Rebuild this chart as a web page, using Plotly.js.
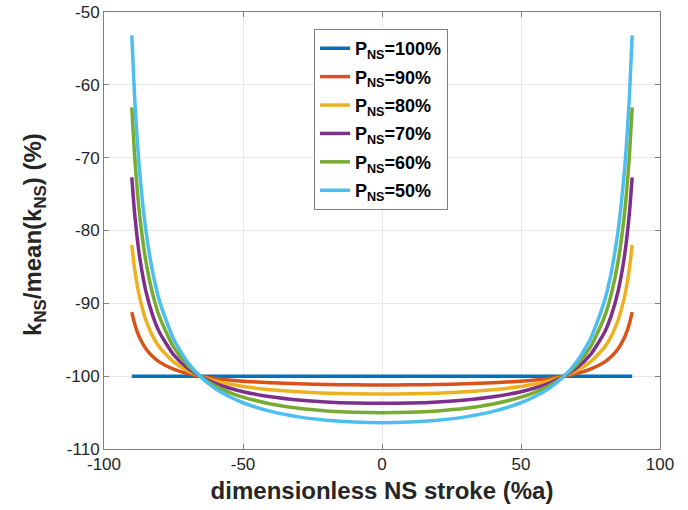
<!DOCTYPE html>
<html>
<head>
<meta charset="utf-8">
<script src="https://cdn.plot.ly/plotly-3.0.1.min.js"></script>
<style>
html,body{margin:0;padding:0;background:#fff;}
#chart{width:688px;height:510px;}
</style>
</head>
<body>
<div id="chart"></div>
<script>
// Stroke positions (%a)
var stroke = [-90,-89,-88,-87,-85,-82.5,-80,-75,-70,-65,-60,-55,-50,-40,-30,-20,-10,0,10,20,30,40,50,55,60,65,70,75,80,82.5,85,87,88,89,90];
var stroke100 = [-90, 90];

// Series values (%)
var p100 = [-100, -100];
var p90 = [-91.20,-92.77,-93.95,-94.87,-96.20,-97.31,-98.07,-99.04,-99.64,-100.03,-100.32,-100.53,-100.69,-100.91,-101.05,-101.14,-101.19,-101.20,-101.19,-101.14,-101.05,-100.91,-100.69,-100.53,-100.32,-100.03,-99.64,-99.04,-98.07,-97.31,-96.20,-94.87,-93.95,-92.77,-91.20];
var p80 = [-82.00,-85.22,-87.63,-89.50,-92.23,-94.50,-96.05,-98.04,-99.26,-100.07,-100.65,-101.08,-101.41,-101.86,-102.15,-102.33,-102.42,-102.45,-102.42,-102.33,-102.15,-101.86,-101.41,-101.08,-100.65,-100.07,-99.26,-98.04,-96.05,-94.50,-92.23,-89.50,-87.63,-85.22,-82.00];
var p70 = [-72.70,-77.58,-81.24,-84.08,-88.21,-91.65,-94.01,-97.03,-98.87,-100.10,-100.98,-101.63,-102.13,-102.82,-103.26,-103.53,-103.68,-103.72,-103.68,-103.53,-103.26,-102.82,-102.13,-101.63,-100.98,-100.10,-98.87,-97.03,-94.01,-91.65,-88.21,-84.08,-81.24,-77.58,-72.70];
var p60 = [-63.10,-69.70,-74.64,-78.48,-84.07,-88.71,-91.90,-95.98,-98.47,-100.14,-101.33,-102.21,-102.88,-103.82,-104.41,-104.77,-104.97,-105.03,-104.97,-104.77,-104.41,-103.82,-102.88,-102.21,-101.33,-100.14,-98.47,-95.98,-91.90,-88.71,-84.07,-78.48,-74.64,-69.70,-63.10];
var p50 = [-53.20,-61.57,-67.84,-72.71,-79.79,-85.69,-89.73,-94.90,-98.06,-100.18,-101.69,-102.80,-103.65,-104.84,-105.59,-106.05,-106.30,-106.38,-106.30,-106.05,-105.59,-104.84,-103.65,-102.80,-101.69,-100.18,-98.06,-94.90,-89.73,-85.69,-79.79,-72.71,-67.84,-61.57,-53.20];

var seriesNames = ['100%','90%','80%','70%','60%','50%'];
var seriesY = [p100, p90, p80, p70, p60, p50];
var seriesX = [stroke100, stroke, stroke, stroke, stroke, stroke];
var colors = ['#0072BD','#D95319','#EDB120','#7E2F8E','#77AC30','#4DBEEE'];

// Tick values and labels
var xTickVals = [-100, -50, 0, 50, 100];
var xTickText = ['-100', '-50', '0', '50', '100'];
var yTickVals = [-110, -100, -90, -80, -70, -60, -50];
var yTickText = ['-110', '-100', '-90', '-80', '-70', '-60', '-50'];

var traces = seriesNames.map(function(n, i){
  return {
    x: seriesX[i], y: seriesY[i], type: 'scatter', mode: 'lines',
    name: '<b>P<sub>NS</sub>=' + n + '</b>',
    legendgroup: 'g' + i,
    line: {color: colors[i], width: 3.5, shape: 'spline', smoothing: 0.6}
  };
});

var font = 'Liberation Sans, Arial, sans-serif';
var axisCommon = {
  showline: true, linecolor: '#808080', linewidth: 1, mirror: 'ticks',
  ticks: 'inside', ticklen: 5, tickcolor: '#808080', tickwidth: 1,
  showgrid: true, gridcolor: '#e8e8e8', gridwidth: 1, zeroline: false,
  tickmode: 'array',
  tickfont: {family: font, size: 17, color: '#262626'}
};

var layout = {
  width: 688, height: 510,
  margin: {l: 104, r: 28, t: 12, b: 61},
  paper_bgcolor: '#ffffff', plot_bgcolor: '#ffffff',
  showlegend: true,
  legend: {
    x: 0.3777, y: 0.961, xanchor: 'left', yanchor: 'top',
    bgcolor: '#ffffff', bordercolor: '#808080', borderwidth: 1,
    tracegroupgap: 2,
    font: {family: font, size: 18, color: '#000000'}
  },
  xaxis: Object.assign({}, axisCommon, {
    range: [-100, 100], tickvals: xTickVals, ticktext: xTickText,
    title: {text: '<b>dimensionless NS stroke (%a)</b>', standoff: 8,
            font: {family: font, size: 24, color: '#262626'}}
  }),
  yaxis: Object.assign({}, axisCommon, {
    range: [-110, -50], tickvals: yTickVals, ticktext: yTickText
  }),
  annotations: [{
    text: '<b>k<sub>NS</sub>/mean(k<sub>NS</sub>) (%)</b>',
    xref: 'paper', yref: 'paper', x: -0.124, y: 0.49,
    xanchor: 'center', yanchor: 'middle', textangle: -90, showarrow: false,
    font: {family: font, size: 24, color: '#262626'}
  }]
};

Plotly.newPlot('chart', traces, layout, {displayModeBar: false, staticPlot: true});
</script>
</body>
</html>
